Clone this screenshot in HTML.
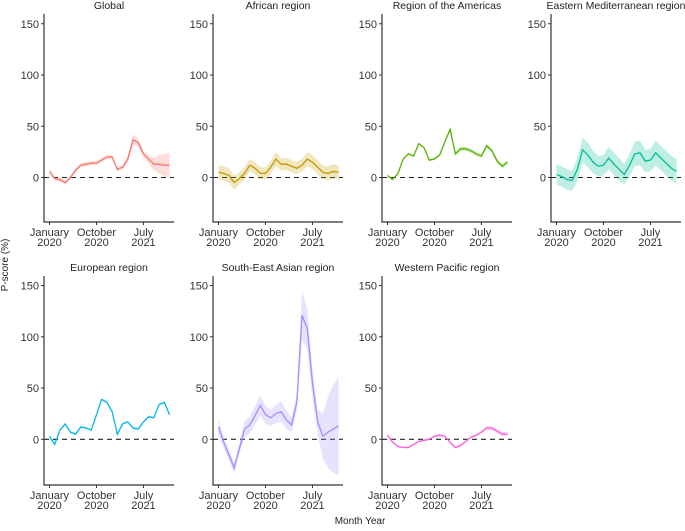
<!DOCTYPE html>
<html><head><meta charset="utf-8"><style>
body{margin:0;background:#fff;}
svg{display:block;font-family:"Liberation Sans",Arial,sans-serif;}
</style></head><body>
<svg id="chart" width="685" height="531" viewBox="0 0 685 531">
<text x="8" y="265" transform="rotate(-90 8 265)" text-anchor="middle" font-size="10" fill="#222">P-score (%)</text>
<text x="360" y="524" text-anchor="middle" font-size="10" fill="#222">Month Year</text>
</svg>
<script>
const regions = ["Global","African region","Region of the Americas","Eastern Mediterranean region","European region","South-East Asian region","Western Pacific region"];
const colors = ["#F8766D","#C49A00","#53B400","#00C094","#00B6EB","#A58AFF","#FB61D7"];
const globalVals = [6,-1,-2,-5,0,7,12,13,14,14,17,20,20,8,10,18,37,34,23,18,13,13,12,12];
const globalErr  = [2,2,2,2,2,2,2,2,2,2,2,2,2,2,2,3,5,4,3,4,6,9,11,12];
const africanVals = [5,4,2,-5,-1,4,12,9,4,4,10,18,13,13,11,9,12,18,15,10,5,4,6,5];
const africanErr  = [7,7,7,7,6,6,6,6,6,6,6,7,6,6,6,6,6,7,7,7,7,7,7,7];
const americasVals = [2,-2,4,18,23,21,33,29,17,18,22,35,47,23,28,28,26,23,21,31,26,16,11,15];
const americasErr  = [1,1,1,1,1,1,1,1,1,1,1,1,1,2,2,2,2,2,2,2,2,2,2,2];
const emrVals = [3,1,-2,-3,8,27,22,15,11,12,19,13,8,3,12,23,24,16,17,24,19,14,9,6];
const emrErr  = [10,10,10,10,11,12,12,11,10,10,11,11,11,10,11,12,12,11,11,12,12,12,12,12];
const europeVals = [3,-5,9,15,7,5,12,11,9,24,39,36,27,5,15,17,11,10,17,22,21,34,36,24];
const europeErr  = [1,1,1,1,1,1,1,1,1,1,1,1,1,1,1,1,1,1,1,1,1,1,1,1];
const seaVals = [12,-3,-15,-28,-9,10,14,23,33,24,21,25,27,19,14,36,121,108,55,17,3,7,10,13];
const seaErr  = [8,6,5,5,5,8,8,9,10,9,8,9,10,9,7,8,24,20,15,12,22,35,43,48];
const wprVals = [4,-3,-7,-8,-8,-5,-2,-1,0,3,4,3,-3,-8,-6,-2,2,4,7,11,11,8,5,5];
const wprErr  = [1,1,1,1,1,1,1,1,1,1,1,1,1,1,1,1,1,1,1,2,2,2,2,2];
const yTicks = [0,50,100,150];
const xTickMonths = [0,9,18];
const xTickLine1 = ["January","October","July"];
const xTickLine2 = ["2020","2020","2021"];

const series=[[globalVals,globalErr],[africanVals,africanErr],[americasVals,americasErr],[emrVals,emrErr],[europeVals,europeErr],[seaVals,seaErr],[wprVals,wprErr]];
const NS="http://www.w3.org/2000/svg";
const svg=document.getElementById('chart');
function mk(t,a,p){const e=document.createElementNS(NS,t);for(const k in a)e.setAttribute(k,a[k]);(p||svg).appendChild(e);return e;}
const colX=[44,213,382,551], rowZero=[177.5,439.3], rowTop=[14,276], rowBot=[222,485];
const kY=1.025, stepX=5.22;
regions.forEach((name,i)=>{
  const r=Math.floor(i/4), c=i%4;
  const ax=colX[c], y0=rowZero[r];
  const g=mk('g',{});
  
  
  const X=k=>ax+5.5+k*stepX, Y=v=>y0-v*kY;
  const t=mk('text',{x:ax+65,y:rowTop[r]-5,'text-anchor':'middle','font-size':'10.5',fill:'#222'},g);t.textContent=name;
  
  
  const axes=mk('path',{d:`M${ax},${rowTop[r]}V${rowBot[r]}H${ax+130}`,stroke:'#333','stroke-width':1.2,fill:'none'},g);
  
  
  yTicks.forEach(v=>{
    mk('line',{x1:ax-3,x2:ax,y1:Y(v),y2:Y(v),stroke:'#333'},g);
    const tt=mk('text',{x:ax-5,y:Y(v)+4,'text-anchor':'end','font-size':'11',fill:'#333'},g);tt.textContent=v;
    
    
  });
  xTickMonths.forEach((m,j)=>{
    mk('line',{x1:X(m),x2:X(m),y1:rowBot[r],y2:rowBot[r]+3,stroke:'#333'},g);
    const a=mk('text',{x:X(m),y:rowBot[r]+14,'text-anchor':'middle','font-size':'11',fill:'#333'},g);a.textContent=xTickLine1[j];
    
    
    const b=mk('text',{x:X(m),y:rowBot[r]+24,'text-anchor':'middle','font-size':'11',fill:'#333'},g);b.textContent=xTickLine2[j];
    
    
  });
  const zl=mk('line',{x1:ax,x2:ax+130,y1:Y(0),y2:Y(0),stroke:'#222','stroke-dasharray':'5,4','stroke-width':1.1},g);
  
  
  const [vals,err]=series[i];
  let up=vals.map((v,k)=>`${X(k)},${Y(v+err[k])}`), lo=vals.map((v,k)=>`${X(k)},${Y(v-err[k])}`).reverse();
  const band=mk('polygon',{points:up.concat(lo).join(' '),fill:colors[i],'fill-opacity':0.25},g);
  
  
  const line=mk('polyline',{points:vals.map((v,k)=>`${X(k)},${Y(v)}`).join(' '),fill:'none',stroke:colors[i],'stroke-width':1.3},g);
  
  
});
</script>
</body></html>
